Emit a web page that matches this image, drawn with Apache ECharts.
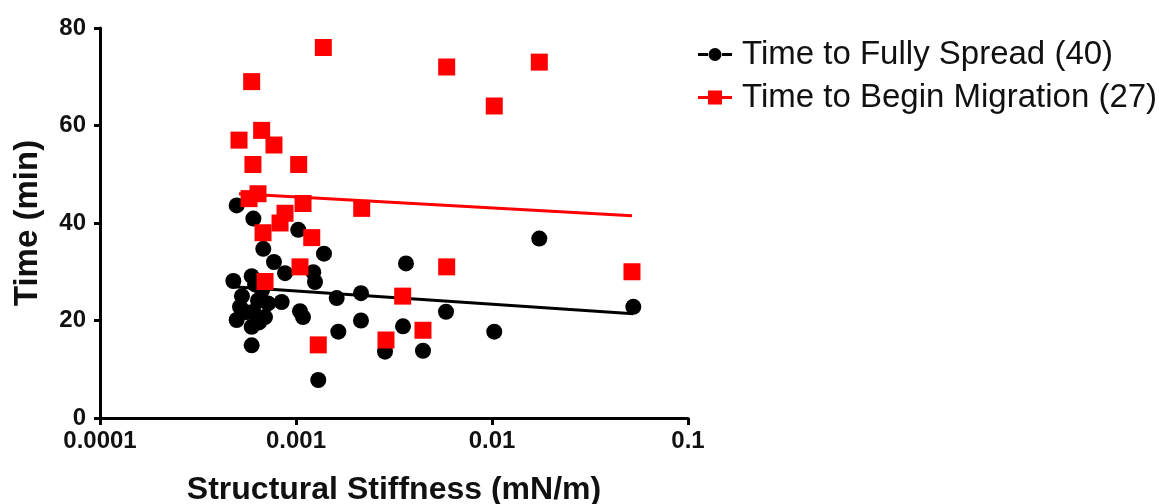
<!DOCTYPE html>
<html>
<head>
<meta charset="utf-8">
<script src="https://cdn.jsdelivr.net/npm/echarts@6/dist/echarts.min.js"></script>
<style>
html,body{margin:0;padding:0;background:#fff;}
#chart{width:1159px;height:504px;}
</style>
</head>
<body>
<div id="chart"></div>
<script>
// Tick labels
var xTickLabels = ['0.0001', '0.001', '0.01', '0.1'];
var yTicks = [0, 20, 40, 60, 80];

// Time to Fully Spread: [stiffness (mN/m), time (min)]
var spreadPoints = [
  [0.000498, 43.6], [0.000606, 40.9], [0.001027, 38.6], [0.000681, 34.7],
  [0.001389, 33.7], [0.000772, 32.0], [0.000879, 29.7], [0.001225, 29.9],
  [0.001250, 27.9], [0.000479, 28.1], [0.000594, 29.1], [0.000845, 23.8],
  [0.001048, 21.9], [0.001086, 20.7], [0.001613, 24.6], [0.002146, 25.6],
  [0.001644, 17.7], [0.002146, 20.0], [0.000518, 22.8], [0.000498, 20.1],
  [0.000594, 18.7], [0.000606, 21.8], [0.000695, 20.7], [0.000594, 14.9],
  [0.001299, 7.8],  [0.002845, 13.6], [0.003515, 18.8], [0.003641, 31.7],
  [0.004445, 13.8], [0.005825, 21.8], [0.01027, 17.7],  [0.01743, 36.8],
  [0.05259, 22.8],  [0.000671, 26.2], [0.000640, 24.1], [0.000556, 21.7],
  [0.000648, 19.6], [0.000530, 25.0], [0.000720, 23.5], [0.000618, 27.4]
];

// Time to Begin Migration: [stiffness (mN/m), time (min)]
var migrationPoints = [
  [0.000512, 57], [0.000594, 69], [0.000603, 52], [0.000668, 59],
  [0.000772, 56], [0.000640, 46], [0.000576, 45], [0.000679, 38],
  [0.000879, 42], [0.000829, 40], [0.000695, 28], [0.001032, 52],
  [0.001086, 44], [0.001048, 31], [0.001203, 37], [0.001378, 76],
  [0.001299, 15], [0.002164, 43], [0.002878, 16], [0.003502, 25],
  [0.004445, 18], [0.005873, 72], [0.005873, 31], [0.01027, 64],
  [0.01743, 73],  [0.05179, 30]
];

// Fitted trend lines (endpoints)
var spreadFit = [[0.000479, 26.9], [0.05259, 21.4]];
var migrationFit = [[0.000512, 46.0], [0.05179, 41.5]];

var seriesNames = ['Time to Fully Spread (40)', 'Time to Begin Migration (27)'];

var circleIcon = 'path://M0,5.5 L10,5.5 L10,8.5 L0,8.5 Z M24,5.5 L34,5.5 L34,8.5 L24,8.5 Z M10.5,7 A6.5,6.5 0 1 1 23.5,7 A6.5,6.5 0 1 1 10.5,7 Z';
var squareIcon = 'path://M0,5.5 L10,5.5 L10,8.5 L0,8.5 Z M24,5.5 L34,5.5 L34,8.5 L24,8.5 Z M10,0 L24,0 L24,14 L10,14 Z';

var chart = echarts.init(document.getElementById('chart'), null, {renderer: 'canvas'});
var font = 'Liberation Sans, Arial, sans-serif';

chart.setOption({
  animation: false,
  backgroundColor: '#ffffff',
  grid: {left: 100, right: 471, top: 28, bottom: 86, containLabel: false, outerBoundsMode: 'none'},
  legend: {
    orient: 'vertical',
    left: 693,
    top: 33,
    itemWidth: 34,
    itemHeight: 14,
    itemGap: 10,
    textStyle: {fontFamily: font, fontSize: 33, color: '#111', padding: [0, 0, 0, 5]},
    data: [
      {name: seriesNames[0], icon: circleIcon, itemStyle: {color: '#000'}},
      {name: seriesNames[1], icon: squareIcon, itemStyle: {color: '#ff0000'}}
    ]
  },
  xAxis: {
    type: 'log',
    logBase: 10,
    min: 0.0001,
    max: 0.1,
    name: 'Structural Stiffness (mN/m)',
    nameLocation: 'middle',
    nameGap: 56,
    nameTextStyle: {fontFamily: font, fontSize: 32, fontWeight: 'bold', color: '#111'},
    axisLine: {lineStyle: {color: '#000', width: 3}},
    axisTick: {show: true, length: 7, inside: false, lineStyle: {color: '#000', width: 3}},
    axisLabel: {
      margin: 11,
      fontFamily: font, fontSize: 24, fontWeight: 'bold', color: '#111',
      formatter: function (v) {
        var i = Math.round(Math.log10(v)) + 4;
        return xTickLabels[i] !== undefined ? xTickLabels[i] : '';
      }
    },
    splitLine: {show: false},
    minorTick: {show: false}
  },
  yAxis: {
    type: 'value',
    min: yTicks[0],
    max: yTicks[yTicks.length - 1],
    interval: 20,
    name: 'Time (min)',
    nameLocation: 'middle',
    nameGap: 56,
    nameRotate: 90,
    nameTextStyle: {fontFamily: font, fontSize: 33, fontWeight: 'bold', color: '#111'},
    axisLine: {show: true, lineStyle: {color: '#000', width: 3}},
    axisTick: {show: true, length: 6, lineStyle: {color: '#000', width: 3}},
    axisLabel: {margin: 14, fontFamily: font, fontSize: 24, fontWeight: 'bold', color: '#111'},
    splitLine: {show: false}
  },
  series: [
    {
      name: seriesNames[0],
      type: 'scatter',
      symbol: 'circle',
      symbolSize: 16,
      itemStyle: {color: '#000', opacity: 1},
      data: spreadPoints,
      z: 2
    },
    {
      name: 'spreadFit',
      type: 'line',
      data: spreadFit,
      showSymbol: false,
      symbol: 'none',
      lineStyle: {color: '#000', width: 3},
      z: 3,
      silent: true
    },
    {
      name: seriesNames[1],
      type: 'scatter',
      symbol: 'rect',
      symbolSize: 17,
      itemStyle: {color: '#ff0000', opacity: 1},
      data: migrationPoints,
      z: 4
    },
    {
      name: 'migrationFit',
      type: 'line',
      data: migrationFit,
      showSymbol: false,
      symbol: 'none',
      lineStyle: {color: '#ff0000', width: 3},
      z: 5,
      silent: true
    }
  ]
});
</script>
</body>
</html>
